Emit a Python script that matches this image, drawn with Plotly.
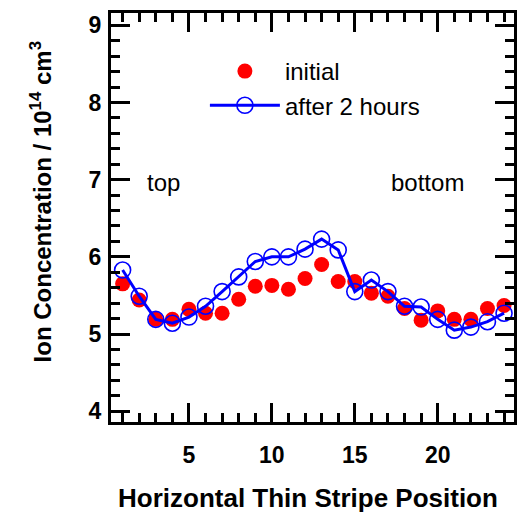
import plotly.graph_objects as go

positions = list(range(1, 25))
initial = [5.65, 5.44, 5.19, 5.19, 5.32, 5.27, 5.27, 5.45, 5.62, 5.63, 5.58, 5.72,
           5.90, 5.68, 5.68, 5.53, 5.49, 5.33, 5.18, 5.30, 5.19, 5.19, 5.33, 5.37]
after_2h = [5.83, 5.49, 5.19, 5.14, 5.22, 5.36, 5.55, 5.74, 5.94, 6.00, 6.00, 6.10,
            6.23, 6.09, 5.55, 5.70, 5.55, 5.36, 5.35, 5.19, 5.05, 5.09, 5.16, 5.27]
x_ticks = [5, 10, 15, 20]
y_ticks = [4, 5, 6, 7, 8, 9]

FONT = "Liberation Sans, Arial, sans-serif"

fig = go.Figure()
fig.add_trace(go.Scatter(
    x=positions, y=initial, mode="markers", name="initial",
    marker=dict(symbol="circle", size=15, color="#ff0000", line=dict(width=0)),
))
fig.add_trace(go.Scatter(
    x=positions, y=after_2h, mode="lines+markers", name="after 2 hours",
    line=dict(color="#0000ff", width=3),
    marker=dict(symbol="circle-open", size=16, color="#0000ff", line=dict(width=1.6)),
))

axis_common = dict(
    showline=True, linecolor="black", linewidth=3, mirror="allticks",
    ticks="inside", ticklen=19, tickwidth=3, tickcolor="black",
    showgrid=False, zeroline=False,
    tickfont=dict(family=FONT, size=23, color="black", weight="bold"),
)

fig.update_xaxes(
    range=[0.3, 24.6], tickvals=x_ticks, ticklabelstandoff=10,
    minor=dict(ticks="inside", ticklen=9, tickwidth=3, tickcolor="black", dtick=1, tick0=0),
    **axis_common,
)
fig.update_yaxes(
    range=[3.86, 9.16], tickvals=y_ticks, ticklabelstandoff=2,
    minor=dict(ticks="inside", ticklen=9, tickwidth=3, tickcolor="black", dtick=0.2, tick0=0),
    **axis_common,
)

fig.add_annotation(xref="paper", yref="paper", x=0.49, y=-0.185,
                   text="<b>Horizontal Thin Stripe Position</b>", showarrow=False,
                   xanchor="center", yanchor="middle",
                   font=dict(family=FONT, size=26, color="black"))
fig.add_annotation(xref="paper", yref="paper", x=-0.175, y=0.538, textangle=-90,
                   text="<b>Ion Concentration / 10<sup>14</sup> cm<sup>3</sup></b>",
                   showarrow=False, xanchor="center", yanchor="middle",
                   font=dict(family=FONT, size=24, color="black"))

fig.add_annotation(x=3.45, y=6.97, text="top", showarrow=False,
                   font=dict(family=FONT, size=24, color="black"))
fig.add_annotation(x=19.4, y=6.97, text="bottom", showarrow=False,
                   font=dict(family=FONT, size=24, color="black"))

fig.update_layout(
    width=521, height=516,
    margin=dict(l=111, r=4, t=13, b=94),
    paper_bgcolor="white", plot_bgcolor="white",
    showlegend=True,
    legend=dict(x=0.233, y=0.912, xanchor="left", yanchor="top",
                bgcolor="rgba(0,0,0,0)", borderwidth=0,
                font=dict(family=FONT, size=24, color="black"),
                itemwidth=70, tracegroupgap=0),
)

fig.write_html("out.html")
